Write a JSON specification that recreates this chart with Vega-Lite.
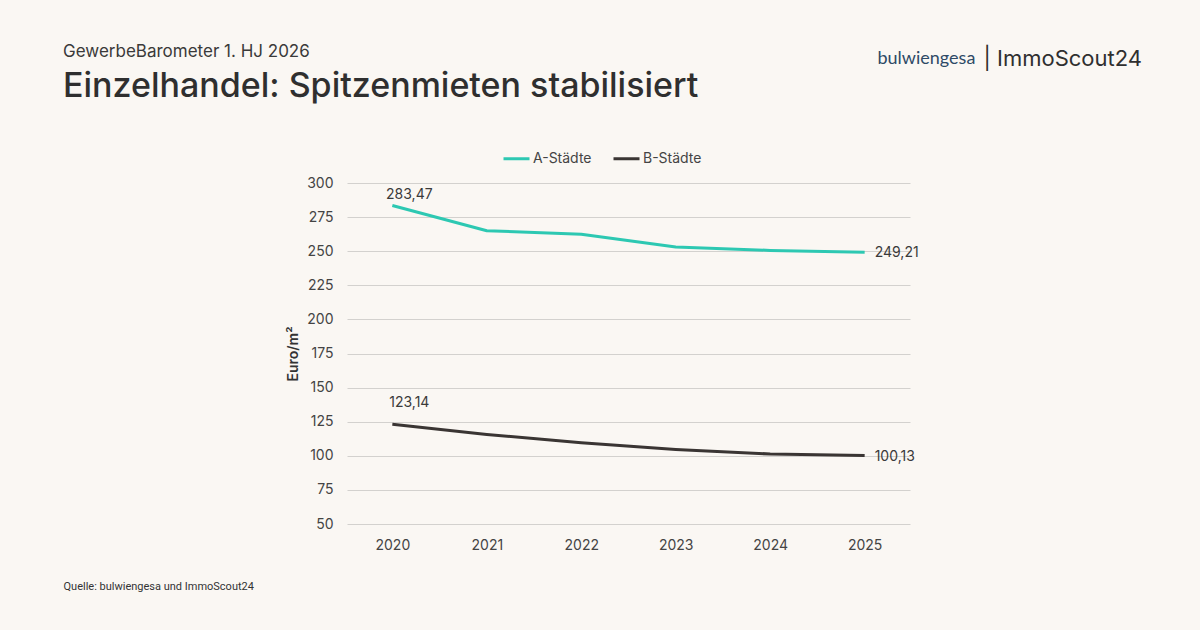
{
  "$schema": "https://vega.github.io/schema/vega-lite/v6.json",
  "width": 563,
  "height": 341,
  "autosize": {"type": "none"},
  "padding": {"left": 347, "top": 183, "right": 290, "bottom": 106},
  "background": "#FAF7F3",
  "config": {
    "view": {"stroke": null},
    "font": "Inter",
    "locale": {
      "number": {"decimal": ",", "thousands": ".", "grouping": [3], "currency": ["", " €"]}
    },
    "axis": {
      "labelFont": "Inter",
      "labelFontSize": 14,
      "labelColor": "#444444",
      "titleFont": "Inter",
      "ticks": false,
      "domain": false
    }
  },
  "title": {
    "text": "GewerbeBarometer 1. HJ 2026",
    "subtitle": "Einzelhandel: Spitzenmieten stabilisiert",
    "anchor": "start",
    "frame": "group",
    "orient": "top",
    "dx": -284,
    "offset": -58,
    "font": "Inter",
    "fontSize": 17,
    "fontWeight": 400,
    "color": "#3A3A3A",
    "subtitleFont": "Inter",
    "subtitleFontSize": 34,
    "subtitleFontWeight": 500,
    "subtitleColor": "#2F2F2F",
    "subtitlePadding": 9
  },
  "data": {
    "values": [
      {"year": "2020", "series": "A-Städte", "value": 283.47},
      {"year": "2021", "series": "A-Städte", "value": 265.0},
      {"year": "2022", "series": "A-Städte", "value": 262.4},
      {"year": "2023", "series": "A-Städte", "value": 253.0},
      {"year": "2024", "series": "A-Städte", "value": 250.6},
      {"year": "2025", "series": "A-Städte", "value": 249.21},
      {"year": "2020", "series": "B-Städte", "value": 123.14},
      {"year": "2021", "series": "B-Städte", "value": 115.7},
      {"year": "2022", "series": "B-Städte", "value": 109.6},
      {"year": "2023", "series": "B-Städte", "value": 104.7},
      {"year": "2024", "series": "B-Städte", "value": 101.3},
      {"year": "2025", "series": "B-Städte", "value": 100.13}
    ]
  },
  "resolve": {"axis": {"x": "independent", "y": "independent"}},
  "layer": [
    {
      "mark": {"type": "line", "strokeWidth": 3, "interpolate": "linear", "strokeJoin": "round"},
      "encoding": {
        "x": {
          "field": "year",
          "type": "ordinal",
          "scale": {"type": "point", "padding": 0.48},
          "axis": {
            "labelAngle": 0,
            "labelPadding": 14,
            "grid": false,
            "title": "Quelle: bulwiengesa und ImmoScout24",
            "titleX": -284,
            "titleY": 62,
            "titleAlign": "left",
            "titleBaseline": "middle",
            "titleAngle": 0,
            "titleFont": "Roboto",
            "titleFontSize": 11,
            "titleFontWeight": 400,
            "titleColor": "#333333"
          }
        },
        "y": {
          "field": "value",
          "type": "quantitative",
          "scale": {"domain": [50, 300], "nice": false, "zero": false},
          "axis": {
            "values": [50, 75, 100, 125, 150, 175, 200, 225, 250, 275, 300],
            "labelPadding": 14,
            "grid": true,
            "gridColor": "#D3D1CE",
            "gridWidth": 1,
            "title": "Euro/m²",
            "titleFontSize": 14,
            "titleFontWeight": 600,
            "titleColor": "#333333",
            "titlePadding": 6
          }
        },
        "color": {
          "field": "series",
          "type": "nominal",
          "scale": {"domain": ["A-Städte", "B-Städte"], "range": ["#2DC8B2", "#3A3533"]},
          "legend": {
            "title": null,
            "orient": "none",
            "direction": "horizontal",
            "legendX": 155,
            "legendY": -39,
            "symbolType": "stroke",
            "symbolSize": 676,
            "symbolStrokeWidth": 3,
            "labelFont": "Inter",
            "labelFontSize": 14,
            "labelColor": "#444444",
            "labelOffset": 2,
            "columnPadding": 15
          }
        }
      }
    },
    {
      "transform": [{"filter": "datum.year === '2020' && datum.series === 'A-Städte'"}],
      "mark": {"type": "text", "align": "center", "baseline": "middle", "dx": 17, "dy": -11, "fontSize": 14, "color": "#3A3A3A"},
      "encoding": {
        "x": {
          "field": "year",
          "type": "ordinal",
          "axis": {
            "orient": "top",
            "labels": false,
            "grid": false,
            "title": "bulwiengesa",
            "titleX": 530,
            "titleY": -125,
            "titleAlign": "left",
            "titleBaseline": "middle",
            "titleAngle": 0,
            "titleFont": "Lato",
            "titleFontSize": 18,
            "titleFontWeight": 400,
            "titleColor": "#2E4A66"
          }
        },
        "y": {
          "field": "value",
          "type": "quantitative",
          "axis": {
            "orient": "right",
            "labels": false,
            "grid": false,
            "title": "|   ImmoScout24",
            "titleX": 73,
            "titleY": -125,
            "titleAlign": "left",
            "titleBaseline": "middle",
            "titleAngle": 0,
            "titleFont": "Inter",
            "titleFontSize": 22,
            "titleFontWeight": 400,
            "titleColor": "#2F2F2F"
          }
        },
        "text": {"field": "value", "type": "quantitative", "format": ".2f"}
      }
    },
    {
      "transform": [{"filter": "datum.year === '2020' && datum.series === 'B-Städte'"}],
      "mark": {"type": "text", "align": "center", "baseline": "middle", "dx": 17, "dy": -21, "fontSize": 14, "color": "#3A3A3A"},
      "encoding": {
        "x": {"field": "year", "type": "ordinal", "axis": null},
        "y": {"field": "value", "type": "quantitative", "axis": null},
        "text": {"field": "value", "type": "quantitative", "format": ".2f"}
      }
    },
    {
      "transform": [{"filter": "datum.year === '2025'"}],
      "mark": {"type": "text", "align": "left", "baseline": "middle", "dx": 10, "dy": 1, "fontSize": 14, "color": "#3A3A3A"},
      "encoding": {
        "x": {"field": "year", "type": "ordinal", "axis": null},
        "y": {"field": "value", "type": "quantitative", "axis": null},
        "text": {"field": "value", "type": "quantitative", "format": ".2f"}
      }
    }
  ]
}
